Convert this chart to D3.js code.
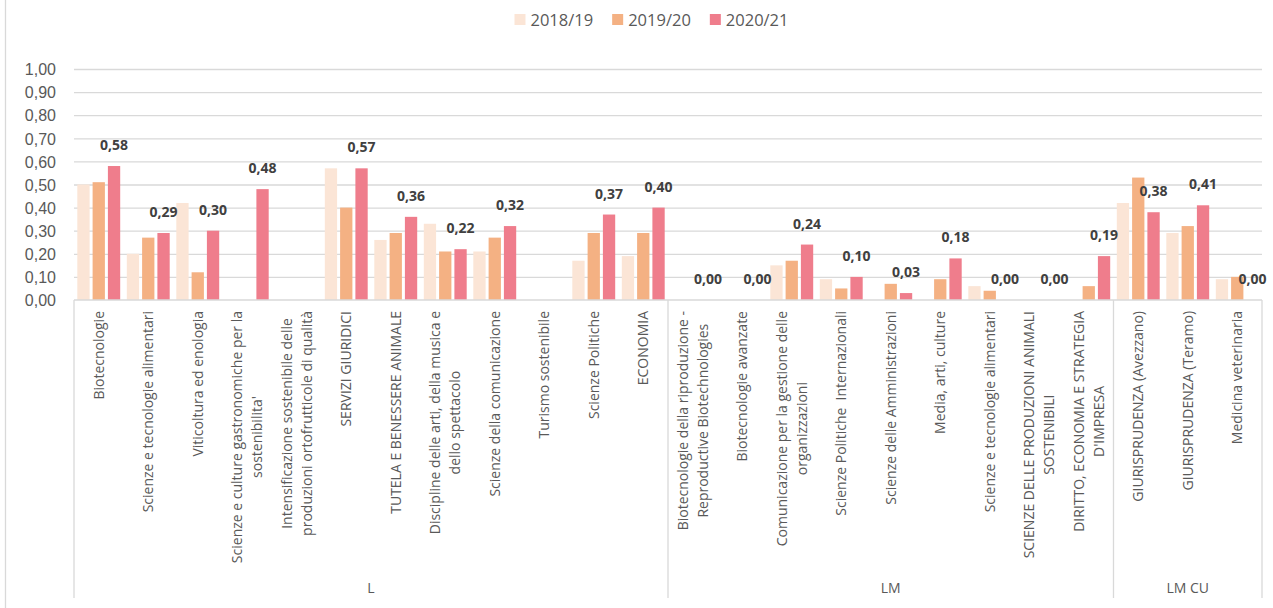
<!DOCTYPE html>
<html>
<head>
<meta charset="utf-8">
<script src="https://cdn.jsdelivr.net/npm/d3@7"></script>
<style>
  html, body { margin: 0; padding: 0; background: #fff; }
  svg { display: block; font-family: "Open Sans", sans-serif; }
  .grid line { stroke: #d9d9d9; stroke-width: 1.3; }
  .grid path { display: none; }
  .axis-y path, .axis-y line { display: none; }
  .axis-y text { fill: #595959; font-size: 16px; }
  .cat-label { fill: #595959; font-size: 14px; white-space: pre; }
  .group-label { fill: #595959; font-size: 14px; }
  .value-label { fill: #404040; font-size: 14px; font-weight: 700; }
  .legend text { fill: #595959; font-size: 16.5px; }
  .frame { stroke: #d9d9d9; stroke-width: 1.3; fill: none; }
</style>
</head>
<body>
<div id="chart"></div>
<script>
// categories (line breaks as in the original axis)
const categories = [
  "Biotecnologie",
  "Scienze e tecnologie alimentari",
  "Viticoltura ed enologia",
  "Scienze e culture gastronomiche per la\nsostenibilita'",
  "Intensificazione sostenibile delle\nproduzioni ortofrutticole di qualità",
  "SERVIZI GIURIDICI",
  "TUTELA E BENESSERE ANIMALE",
  "Discipline delle arti, della musica e\ndello spettacolo",
  "Scienze della comunicazione",
  "Turismo sostenibile",
  "Scienze Politiche",
  "ECONOMIA",
  "Biotecnologie della riproduzione -\nReproductive Biotechnologies",
  "Biotecnologie avanzate",
  "Comunicazione per la gestione delle\norganizzazioni",
  "Scienze Politiche  Internazionali",
  "Scienze delle Amministrazioni",
  "Media, arti, culture",
  "Scienze e tecnologie alimentari",
  "SCIENZE DELLE PRODUZIONI ANIMALI\nSOSTENIBILI",
  "DIRITTO, ECONOMIA E STRATEGIA\nD'IMPRESA",
  "GIURISPRUDENZA (Avezzano)",
  "GIURISPRUDENZA (Teramo)",
  "Medicina veterinaria"
];

// outer category level: name and number of categories it spans
const groupNames = ["L", "LM", "LM CU"];
const groupSizes = [12, 9, 3];

const seriesNames = ["2018/19", "2019/20", "2020/21"];
const seriesColors = ["#fbe5d6", "#f4b183", "#ef7d8c"];

const values1819 = [0.50, 0.20, 0.42, null, null, 0.57, 0.26, 0.33, 0.21, null, 0.17, 0.19,
                    null, null, 0.15, 0.09, null, null, 0.06, null, null, 0.42, 0.29, 0.09];
const values1920 = [0.51, 0.27, 0.12, null, null, 0.40, 0.29, 0.21, 0.27, null, 0.29, 0.29,
                    null, null, 0.17, 0.05, 0.07, 0.09, 0.04, null, 0.06, 0.53, 0.32, 0.10];
const values2021 = [0.58, 0.29, 0.30, 0.48, null, 0.57, 0.36, 0.22, 0.32, null, 0.37, 0.40,
                    0.00, 0.00, 0.24, 0.10, 0.03, 0.18, 0.00, 0.00, 0.19, 0.38, 0.41, 0.00];

const yTicks = [0, 0.1, 0.2, 0.3, 0.4, 0.5, 0.6, 0.7, 0.8, 0.9, 1.0];

const seriesValues = [values1819, values1920, values2021];

const width = 1273, height = 608;
const plot = { left: 74, right: 1262, top: 69, bottom: 300 };

const svg = d3.select("#chart").append("svg")
  .attr("width", width)
  .attr("height", height);

const fmt = (v) => d3.format(".2f")(v).replace(".", ",");

const x = d3.scaleBand()
  .domain(d3.range(categories.length))
  .range([plot.left, plot.right])
  .padding(0);

const xSub = d3.scaleBand()
  .domain(d3.range(seriesNames.length))
  .range([0, x.bandwidth()])
  .paddingInner(0.196)
  .paddingOuter(0.216);

const y = d3.scaleLinear().domain([0, 1]).range([plot.bottom, plot.top]);

// outer chart border (only left edge is visible in the picture)
svg.append("line").attr("class", "frame")
  .attr("x1", 5.5).attr("x2", 5.5).attr("y1", 0).attr("y2", height);

// gridlines
svg.append("g")
  .attr("class", "grid")
  .attr("transform", `translate(${plot.left},0)`)
  .call(d3.axisLeft(y).tickValues(yTicks.slice(1)).tickSize(-(plot.right - plot.left)).tickFormat(""));

// y axis labels
svg.append("g")
  .attr("class", "axis-y")
  .attr("transform", `translate(${plot.left},0)`)
  .call(d3.axisLeft(y).tickValues(yTicks).tickSize(0).tickPadding(18).tickFormat(fmt))
  .call((g) => g.selectAll("text").attr("dy", "0.36em"));

// bars
const rows = categories.map((c, i) => ({ i, vals: seriesValues.map((s) => s[i]) }));

const catG = svg.append("g").selectAll("g.cat")
  .data(rows)
  .join("g")
  .attr("class", "cat")
  .attr("transform", (d) => `translate(${x(d.i)},0)`);

catG.selectAll("rect")
  .data((d) => d.vals.map((v, s) => ({ v, s })).filter((e) => e.v !== null))
  .join("rect")
  .attr("x", (e) => xSub(e.s))
  .attr("width", xSub.bandwidth())
  .attr("y", (e) => y(e.v))
  .attr("height", (e) => y(0) - y(e.v))
  .attr("fill", (e) => seriesColors[e.s]);

// data labels, last series only
svg.append("g").selectAll("text")
  .data(rows.filter((d) => d.vals[2] !== null))
  .join("text")
  .attr("class", "value-label")
  .attr("text-anchor", "middle")
  .attr("x", (d) => x(d.i) + xSub(2) + xSub.bandwidth() / 2)
  .attr("y", (d) => y(d.vals[2]) - 16)
  .text((d) => fmt(d.vals[2]));

// category axis frame
const frame = svg.append("g");
const groupEdges = [0];
groupSizes.forEach((n, k) => groupEdges.push(groupEdges[k] + n));
frame.append("line").attr("class", "frame")
  .attr("x1", plot.left).attr("x2", plot.right)
  .attr("y1", plot.bottom).attr("y2", plot.bottom);
frame.selectAll("line.edge")
  .data(groupEdges)
  .join("line")
  .attr("class", "frame edge")
  .attr("x1", (k) => (k < categories.length ? x(k) : plot.right))
  .attr("x2", (k) => (k < categories.length ? x(k) : plot.right))
  .attr("y1", plot.bottom)
  .attr("y2", 598);

// category labels, rotated; lines centred on each other, block pinned to the top
const lineH = 20;
const labelTop = 311;
const labels = svg.append("g").selectAll("g.cat-label-g")
  .data(categories)
  .join("g");

labels.each(function (c, i) {
  const g = d3.select(this);
  const lines = c.split("\n");
  const t = g.append("text")
    .attr("class", "cat-label")
    .attr("text-anchor", "middle");
  t.selectAll("tspan")
    .data(lines)
    .join("tspan")
    .attr("x", 0)
    .attr("y", (_, k) => (k - (lines.length - 1) / 2) * lineH)
    .attr("dy", "0.35em")
    .text((l) => l);
  let maxLen = 0;
  t.selectAll("tspan").each(function () { maxLen = Math.max(maxLen, this.getComputedTextLength()); });
  const cx = x(i) + x.bandwidth() / 2;
  g.attr("transform", `translate(${cx},${labelTop + maxLen / 2}) rotate(-90)`);
});

// group labels
svg.append("g").selectAll("text")
  .data(groupNames)
  .join("text")
  .attr("class", "group-label")
  .attr("text-anchor", "middle")
  .attr("x", (_, k) => {
    const a = x(groupEdges[k]);
    const b = groupEdges[k + 1] < categories.length ? x(groupEdges[k + 1]) : plot.right;
    return (a + b) / 2;
  })
  .attr("y", 593)
  .text((d) => d);

// legend, centred
const legend = svg.append("g").attr("class", "legend");
const items = legend.selectAll("g")
  .data(seriesNames)
  .join("g");
items.append("rect")
  .attr("width", 11).attr("height", 11)
  .attr("y", 14)
  .attr("fill", (_, k) => seriesColors[k]);
items.append("text")
  .attr("x", 16)
  .attr("y", 26)
  .text((d) => d);
let cursor = 0;
items.each(function () {
  const g = d3.select(this);
  g.attr("transform", `translate(${cursor},0)`);
  cursor += 16 + g.select("text").node().getComputedTextLength() + 19;
});
const legendW = cursor - 19;
legend.attr("transform", `translate(${651.5 - legendW / 2},0)`);
</script>
</body>
</html>
